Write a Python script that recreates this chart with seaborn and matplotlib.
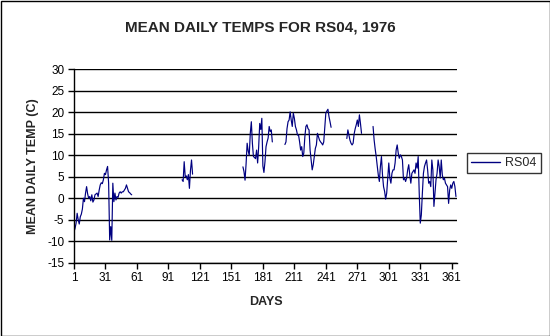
import numpy as np
import pandas as pd
import matplotlib
matplotlib.use("Agg")
import matplotlib.pyplot as plt
from matplotlib.lines import Line2D
from matplotlib.patches import Rectangle
import seaborn as sns

sns.set_style("white")
plt.rcParams['font.family'] = ['Liberation Sans', 'DejaVu Sans']

# ---- data ----
seg1_start = 1
seg1 = [-7.8, -7.0, -5.8, -3.5, -5.0, -6.0, -4.3, -3.7, -2.5, 0.0,
        -0.8, 1.2, 2.7, 1.0, 0.0, 0.4, -0.6, 0.8, -0.9, -0.4,
        0.8, 1.0, 1.2, 0.4, 1.9, 3.1, 3.6, 3.4, 4.3, 5.8,
        5.5, 6.6, 7.4, 3.5, -9.7, -6.6, -9.8, 3.5, -0.8, 1.2,
        -0.4, 0.4, 0.2, 1.2, 1.5, 1.2, 1.5, 1.5, 1.9, 2.3,
        3.1, 2.3, 1.5, 1.3, 1.0, 0.8]
seg2_start = 104
seg2 = [4.3, 3.9, 8.5, 5.0, 5.2, 4.3, 5.5, 2.3, 6.5, 8.9, 5.6]
seg3_start = 162
seg3 = [7.3, 6.2, 4.2, 8.0, 12.8, 11.0, 10.0, 15.1, 17.8, 12.8,
        9.7, 9.5, 9.2, 11.2, 8.2, 12.0, 17.4, 16.0, 18.6, 7.5,
        6.0, 8.5, 12.0, 13.1, 14.0, 16.7, 15.5, 15.9, 13.1]
seg4_start = 202
seg4 = [12.5, 13.1, 16.2, 17.8, 18.2, 20.1, 18.2, 16.7, 19.8, 18.6,
        16.7, 15.9, 14.7, 14.7, 13.1, 11.2, 12.0, 9.7, 10.5, 14.3,
        16.7, 17.1, 16.2, 15.9, 11.2, 8.9, 6.6, 7.8, 9.7, 11.6,
        12.4, 15.1, 14.3, 13.5, 13.1, 12.8, 12.4, 13.1, 16.5, 19.8,
        20.3, 20.7, 19.0, 17.8, 16.5]
seg5_start = 261
seg5 = [13.9, 15.9, 14.7, 13.5, 12.8, 12.4, 12.8, 15.0, 16.2, 17.1,
        18.2, 16.7, 19.4, 17.4, 15.1]
seg6_start = 286
seg6 = [16.7, 13.6, 11.5, 9.7, 7.5, 5.4, 3.9, 7.4, 9.7, 5.4,
        2.7, 1.6, -0.2, 1.2, 4.7, 8.2, 4.7, 3.5, 5.8, 6.6,
        6.6, 8.2, 11.2, 12.4, 10.5, 9.3, 10.1, 9.7, 8.9, 4.3,
        4.7, 3.9, 4.7, 6.6, 7.8, 5.4, 3.5, 5.8, 6.2, 6.6,
        5.8, 8.2, 7.0, 9.7, 1.2, -5.8, -3.9, 1.2, 5.8, 7.4,
        8.2, 8.9, 6.6, 3.5, 3.9, 2.7, 8.9, 6.6, -1.9, 1.2,
        4.3, 5.8, 8.9, 7.4, 4.7, 8.9, 5.4, 4.3, 4.7, 3.5,
        3.1, 2.7, -1.2, 1.9, 3.1, 2.3, 3.5, 3.9, 2.7, 0.4]

x_ticks = [1, 31, 61, 91, 121, 151, 181, 211, 241, 271, 301, 331, 361]
y_ticks = [-15, -10, -5, 0, 5, 10, 15, 20, 25, 30]
series_name = "RS04"

segments = [(seg1_start, seg1), (seg2_start, seg2), (seg3_start, seg3),
            (seg4_start, seg4), (seg5_start, seg5), (seg6_start, seg6)]
rows = []
for i, (start, vals) in enumerate(segments):
    for k, v in enumerate(vals):
        rows.append({"day": start + k, "temp": v, "seg": i})
df = pd.DataFrame(rows)

# ---- figure ----
W, H = 550, 336
fig = plt.figure(figsize=(W / 100, H / 100), dpi=100)
fig.patch.set_facecolor("white")
L, R, T, B = 74, 457, 69.3, 262.7
ax = fig.add_axes([L / W, 1 - B / H, (R - L) / W, (B - T) / H])

navy = "#000080"
sns.lineplot(data=df, x="day", y="temp", units="seg", estimator=None,
             color=navy, linewidth=0.85, ax=ax, legend=False)

ax.set_xlim(1, 366)
ax.set_ylim(-15, 30)
ax.set_xticks(x_ticks)
ax.set_xticklabels([str(t) for t in x_ticks], fontsize=8.5)
ax.set_yticks(y_ticks)
ax.set_yticklabels([str(t) for t in y_ticks], fontsize=8.5)
ax.yaxis.grid(True, color="black", linewidth=1.0)
ax.xaxis.grid(False)
ax.set_axisbelow(True)
for s in ["top", "right"]:
    ax.spines[s].set_visible(False)
for s in ["left", "bottom"]:
    ax.spines[s].set_color("black")
    ax.spines[s].set_linewidth(1.0)
ax.tick_params(axis="both", direction="out", length=4, width=1, color="black",
               bottom=True, left=True, pad=3, labelcolor="black")

ax.set_xlabel("DAYS", fontsize=9, fontweight="bold", labelpad=8)
ax.set_ylabel("MEAN DAILY TEMP (C)", fontsize=9, fontweight="bold", labelpad=6)
fig.text(260 / W, 1 - 28 / H, "MEAN DAILY TEMPS FOR RS04, 1976",
         ha="center", va="center", fontsize=11, fontweight="bold")

handle = Line2D([0], [0], color=navy, linewidth=1.0)
leg = fig.legend([handle], [series_name], loc="center left",
                 bbox_to_anchor=(467 / W, 1 - 163 / H), fontsize=9,
                 frameon=True, fancybox=False, handlelength=2.3,
                 handletextpad=0.4, borderpad=0.35, borderaxespad=0)
leg.get_frame().set_edgecolor("black")
leg.get_frame().set_linewidth(1.0)

fig.patches.append(Rectangle((0.5 / W, 0.5 / H), (W - 1) / W, (H - 1) / H,
                             transform=fig.transFigure, fill=False,
                             edgecolor="black", linewidth=1.0))

fig.savefig("out.png", dpi=100)
